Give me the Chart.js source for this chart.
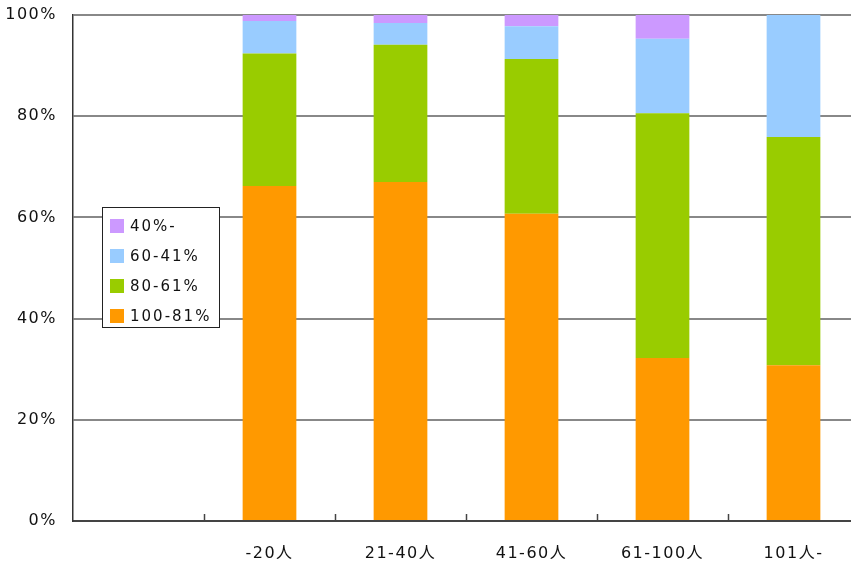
<!DOCTYPE html>
<html>
<head>
<meta charset="utf-8">
<script src="https://cdn.jsdelivr.net/npm/chart.js@4"></script>
<style>
  html, body { margin: 0; padding: 0; background: #fff; overflow: hidden; }
  #wrap { width: 859px; height: 562px; position: relative; }
</style>
</head>
<body>
<div id="wrap"><canvas id="myChart"></canvas></div>
<script>
// kategorie (pierwsza pusta) i udzialy w %
const categories = ['', '-20人', '21-40人', '41-60人', '61-100人', '101人-'];
const seriesLabels = ['100-81%', '80-61%', '60-41%', '40%-'];
const seriesColors = ['#ff9900', '#99cc00', '#99ccff', '#cc99ff'];
const s100_81 = [null, 66.2, 67.0, 60.7, 32.2, 30.8];
const s80_61 = [null, 26.2, 27.1, 30.6, 48.4, 45.1];
const s60_41 = [null, 6.4, 4.3, 6.5, 14.7, 24.1];
const s40 = [null, 1.2, 1.6, 2.2, 4.7, 0];
const yTicks = [0, 20, 40, 60, 80, 100];

const FONT = '"DejaVu Sans", "Noto Sans CJK JP", sans-serif';
const allSeries = [s100_81, s80_61, s60_41, s40];

// odstepy miedzy literami jak w oryginale
const spacingPlugin = {
    id: 'spacing',
    beforeDraw(chart) { chart.ctx.letterSpacing = '1.5px'; }
};

// kreski na osi x (do gory, miedzy kategoriami)
const innerTicks = {
    id: 'innerTicks',
    afterDatasetsDraw(chart) {
        const ctx = chart.ctx, x = chart.scales.x, a = chart.chartArea;
        ctx.save();
        ctx.strokeStyle = '#444';
        ctx.lineWidth = 1.5;
        for (let i = 1; i < categories.length; i++) {
            const px = Math.round((x.getPixelForValue(i - 1) + x.getPixelForValue(i)) / 2) + 0.5;
            ctx.beginPath();
            ctx.moveTo(px, a.bottom);
            ctx.lineTo(px, a.bottom - 7);
            ctx.stroke();
        }
        ctx.restore();
    }
};

// legenda w srodku wykresu, odwrocona kolejnosc
const boxLegend = {
    id: 'boxLegend',
    afterDraw(chart) {
        const ctx = chart.ctx;
        const bx = 102.5, by = 207.5, bw = 117, bh = 120;
        ctx.save();
        ctx.fillStyle = '#fff';
        ctx.fillRect(bx, by, bw, bh);
        ctx.strokeStyle = '#222';
        ctx.lineWidth = 1;
        ctx.strokeRect(bx, by, bw, bh);
        ctx.font = '15px ' + FONT;
        ctx.textBaseline = 'middle';
        ctx.textAlign = 'left';
        ctx.letterSpacing = '2px';
        const ds = chart.data.datasets.slice().reverse();
        ds.forEach((d, i) => {
            const cy = 226 + i * 30;
            ctx.fillStyle = d.backgroundColor;
            ctx.fillRect(110, cy - 7, 14, 14);
            ctx.fillStyle = '#111';
            ctx.fillText(d.label, 130, cy + 1);
        });
        ctx.restore();
    }
};

let ctx = document.getElementById('myChart').getContext('2d');
let wykres = new Chart(ctx, {
    type: 'bar',
    data: {
        labels: categories,
        datasets: allSeries.map((s, i) => ({
            label: seriesLabels[i],
            data: s,
            backgroundColor: seriesColors[i],
            borderWidth: 0,
            barPercentage: 0.41,
            categoryPercentage: 1
        }))
    },
    options: {
        responsive: true,
        maintainAspectRatio: false,
        animation: false,
        layout: { padding: { top: 15, right: 0, left: 0, bottom: 0 } },
        plugins: {
            legend: { display: false },
            tooltip: { enabled: false }
        },
        scales: {
            x: {
                stacked: true,
                grid: { display: false },
                border: { display: true, color: '#444', width: 2 },
                ticks: {
                    color: '#111',
                    font: { family: FONT, size: 16 },
                    padding: 15,
                    maxRotation: 0,
                    autoSkip: false
                },
                afterFit: s => { s.height = 41; s.paddingLeft = 0; s.paddingRight = 0; }
            },
            y: {
                stacked: true,
                min: 0,
                max: 100,
                afterBuildTicks: s => { s.ticks = yTicks.map(v => ({ value: v })); },
                grid: { color: '#888', lineWidth: 2, drawTicks: false },
                border: { display: true, color: '#333', width: 1.5 },
                ticks: {
                    color: '#111',
                    font: { family: FONT, size: 16 },
                    padding: 16,
                    callback: v => v + '%'
                },
                afterFit: s => { s.width = 73; s.paddingTop = 0; s.paddingBottom = 0; }
            }
        }
    },
    plugins: [spacingPlugin, innerTicks, boxLegend]
});
</script>
</body>
</html>
